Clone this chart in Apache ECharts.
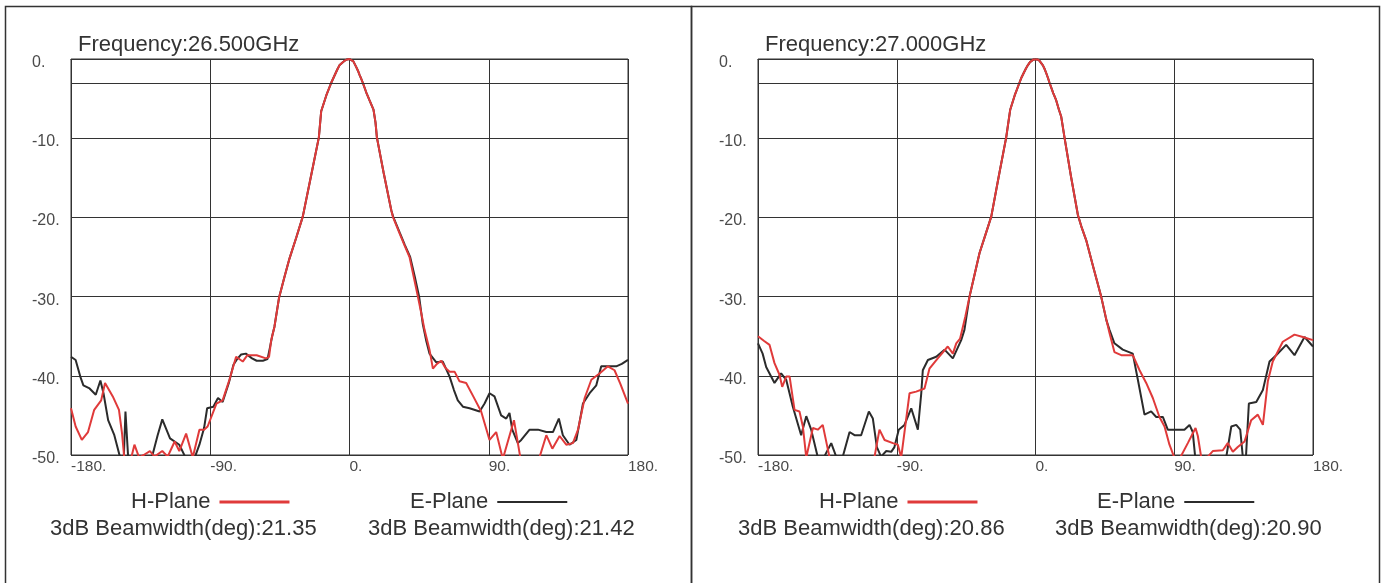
<!DOCTYPE html>
<html>
<head>
<meta charset="utf-8">
<script src="https://cdn.jsdelivr.net/npm/echarts@6/dist/echarts.min.js"></script>
<style>
html,body{margin:0;padding:0;background:#fff;}
#chart{width:1386px;height:583px;}
</style>
</head>
<body>
<div id="chart"></div>
<script>
// ---- data ----
const frequencies = ['26.500', '27.000'];
const beamwidthH = ['21.35', '20.86'];
const beamwidthE = ['21.42', '20.90'];
const xTicks = [-180, -90, 0, 90, 180];
const yTicks = [-50, -40, -30, -20, -10, 0];
const refLevel = -3;

// 26.5 GHz, H-Plane (red)
const h1 = [[-180,-44.1],[-177,-46.4],[-173,-48.1],[-169,-47.1],[-165,-44.3],[-160.5,-43.1],[-158,-40.9],[-153,-42.6],[-149,-44.3],[-147,-47.3],[-145.5,-50.5],[-141,-50.3],[-139,-48.7],[-136,-50.3],[-133,-50],[-129,-49.5],[-126,-50.2],[-121,-49.5],[-117.5,-50.2],[-113,-48.3],[-110,-49.5],[-105.6,-47.3],[-101.3,-50.3],[-97,-46.8],[-94,-46.8],[-91.7,-46.4],[-86,-43.5],[-82,-43.1],[-77.6,-40.5],[-73.3,-37.6],[-69,-38.2],[-66,-37.4],[-60,-37.4],[-54,-37.8],[-52,-37.6],[-50.6,-35.5],[-48.5,-33.8],[-45.5,-30.1],[-42,-27.5],[-38.8,-25.2],[-34.5,-22.6],[-30.2,-19.9],[-25,-14.9],[-19.8,-9.9],[-18.3,-6.6],[-15,-4.6],[-11.8,-3.0],[-10.4,-2.4],[-9,-1.8],[-7.8,-1.3],[-6.5,-0.8],[-4.5,-0.45],[-3,-0.2],[-1.5,-0.05],[0,0],[1.2,-0.06],[2.5,-0.3],[3.4,-0.55],[4.3,-1.0],[5.4,-1.45],[6.5,-2.0],[7.6,-2.5],[8.6,-3.0],[10.8,-4.2],[12.9,-5.2],[15.5,-6.4],[16.8,-8.0],[17.7,-9.9],[22,-14.3],[27,-19.1],[28,-19.9],[32.3,-22.0],[35.5,-23.5],[38.8,-25.0],[41.5,-27.5],[44.2,-30.0],[46.5,-32.2],[48.5,-34.2],[51.7,-36.7],[53.9,-39.1],[56.5,-38.5],[59.3,-38.1],[62,-39.0],[64.7,-39.5],[68,-39.5],[71.1,-40.7],[75.4,-40.9],[80,-42.6],[85.1,-44.5],[90.5,-48.1],[94.8,-47.1],[99.1,-50.5],[106.3,-45.6],[111,-51],[116,-52],[122.8,-50.3],[127.2,-47.5],[131.1,-49.2],[135.8,-47.6],[140.1,-48.7],[144.4,-48.5],[147.7,-46.8],[152,-42.8],[156.3,-40.5],[161.6,-39.7],[167,-38.8],[171.3,-39.3],[175,-41],[180,-43.5]];

// 26.5 GHz, E-Plane (black)
const e1 = [[-180,-37.6],[-177,-38.0],[-174,-40.1],[-172,-41.2],[-168,-41.6],[-164,-42.4],[-161,-40.6],[-159,-42.2],[-156,-45.6],[-152,-47.5],[-148,-50.5],[-146,-51],[-144.8,-44.5],[-143,-50.5],[-138,-51],[-133,-51],[-128,-50.5],[-124,-47.5],[-121,-45.5],[-116,-47.9],[-110,-48.7],[-106,-50.3],[-100,-50.3],[-97,-48.7],[-94,-46.6],[-92,-44.1],[-88,-43.9],[-85,-42.8],[-82,-43.3],[-78,-40.9],[-75,-38.6],[-73,-38.0],[-70,-37.3],[-67,-37.2],[-63,-37.8],[-60,-38.1],[-56,-38.1],[-53,-37.9],[-51.5,-36.5],[-50,-35.0],[-48.5,-33.8],[-45.5,-30.1],[-42,-27.5],[-38.8,-25.2],[-34.5,-22.6],[-30.2,-19.9],[-25,-14.9],[-19.8,-9.9],[-18.3,-6.6],[-15,-4.6],[-11.8,-3.0],[-10.4,-2.4],[-9,-1.8],[-7.8,-1.3],[-6.5,-0.8],[-4.5,-0.45],[-3,-0.2],[-1.5,-0.05],[0,0],[1.2,-0.06],[2.5,-0.3],[3.4,-0.55],[4.3,-1.0],[5.4,-1.45],[6.5,-2.0],[7.6,-2.5],[8.6,-3.0],[10.8,-4.2],[12.9,-5.2],[15.5,-6.4],[16.8,-8.0],[17.7,-9.9],[22,-14.3],[27,-19.1],[28.2,-19.9],[32.6,-22.0],[35.8,-23.5],[39.2,-25.0],[42.2,-27.5],[45,-30.0],[47.4,-33.5],[49.5,-35.5],[51.7,-37.2],[56.1,-38.3],[60.3,-38.2],[64.7,-40.1],[67.5,-41.8],[70,-43.1],[73.3,-43.9],[77.6,-44.1],[84.1,-44.5],[87.3,-43.5],[90.5,-42.2],[93.7,-42.6],[98,-45],[101.3,-45.4],[103.4,-44.7],[105.2,-46.8],[108.8,-48.5],[111,-48.1],[116.4,-46.8],[121.8,-46.8],[127.2,-47.1],[131.5,-47.1],[135.3,-45.4],[137.9,-47.5],[142.2,-48.7],[146.6,-48.1],[150.9,-43.5],[155.2,-42.2],[159.5,-41.2],[162.7,-38.8],[168,-38.8],[172.4,-38.8],[176,-38.5],[180,-38.0]];

// 27.0 GHz, H-Plane (red)
const h2 = [[-180,-35.0],[-176,-35.6],[-172.5,-36.1],[-169.3,-38.4],[-166,-39.9],[-164.3,-41.4],[-161.7,-40.1],[-159.5,-40.1],[-156.3,-44.3],[-153.1,-44.5],[-150.9,-46.4],[-148.7,-50.3],[-144.4,-46.6],[-141.2,-46.8],[-138,-46.2],[-133.6,-50.3],[-128,-52],[-120,-52],[-112,-52],[-106,-51],[-104.4,-50.2],[-101.2,-46.8],[-97.9,-48.1],[-92.5,-48.5],[-89.3,-48.7],[-87.1,-50.3],[-81.7,-42.2],[-77.4,-42.0],[-72,-41.6],[-68.8,-39.1],[-63.4,-37.8],[-56.9,-36.3],[-53.6,-37.2],[-51.4,-35.9],[-48.9,-35.3],[-45.5,-32.5],[-42.8,-30.0],[-39.5,-27.2],[-36.3,-24.5],[-32.5,-22.2],[-28.7,-19.9],[-24,-15.0],[-19,-9.9],[-16.4,-6.4],[-13.5,-4.6],[-10.4,-3.0],[-9,-2.3],[-7.5,-1.7],[-6.2,-1.2],[-5,-0.8],[-3.6,-0.4],[-2.5,-0.2],[-1.2,-0.05],[0,0],[1.2,-0.05],[2.5,-0.2],[3.6,-0.45],[4.8,-0.8],[6,-1.3],[7,-1.8],[8.1,-2.4],[9.1,-3.0],[11.5,-4.3],[13.4,-5.2],[15.2,-6.4],[16.7,-7.3],[18.8,-9.9],[23,-14.8],[27.5,-19.7],[30,-21.3],[32.9,-22.9],[37.5,-26.3],[42.6,-30.0],[45.5,-32.5],[48,-34.6],[51.2,-37.0],[55.6,-37.4],[63.1,-37.4],[67.5,-39.3],[71.8,-40.9],[76.1,-42.8],[80.4,-45.2],[83.7,-46.4],[86.9,-48.7],[90,-50.3],[93.4,-50.5],[98.8,-48.5],[103.8,-46.6],[105.3,-47.6],[107.5,-50.3],[111.8,-50.2],[115,-49.5],[121.5,-49.4],[124.7,-48.5],[128,-49.6],[131.2,-49.0],[135.6,-48.3],[139.9,-45.6],[144.2,-44.9],[147.5,-46.2],[150.7,-40.7],[153.9,-38.2],[160.4,-35.7],[168,-34.8],[173.4,-35.1],[180,-35.5]];

// 27.0 GHz, E-Plane (black)
const e2 = [[-180,-35.9],[-177,-37.2],[-174.7,-38.9],[-169.3,-40.9],[-165,-39.7],[-161.7,-40.5],[-157.4,-43.9],[-152,-47.5],[-148.7,-45.1],[-145.5,-46.8],[-141.2,-50.3],[-137,-50.2],[-132.5,-48.5],[-129.3,-50.2],[-125,-50.2],[-120.6,-47.1],[-117.4,-47.5],[-113.1,-47.5],[-108.1,-44.5],[-105.5,-45.4],[-102.9,-49.0],[-100.2,-50.2],[-96.8,-49.5],[-93.6,-49.6],[-91.5,-49.0],[-88.7,-46.8],[-85,-46.2],[-80.6,-44.1],[-76.3,-46.8],[-74.1,-42.2],[-73.1,-39.3],[-69.8,-38.0],[-64.4,-37.6],[-59,-36.7],[-53.6,-37.8],[-48.2,-35.5],[-46.1,-34.2],[-42.8,-30.0],[-39.5,-27.2],[-36.3,-24.5],[-32.5,-22.2],[-28.7,-19.9],[-24,-15.0],[-19,-9.9],[-16.4,-6.4],[-13.5,-4.6],[-10.4,-3.0],[-9,-2.3],[-7.5,-1.7],[-6.2,-1.2],[-5,-0.8],[-3.6,-0.4],[-2.5,-0.2],[-1.2,-0.05],[0,0],[1.2,-0.05],[2.5,-0.2],[3.6,-0.45],[4.8,-0.8],[6,-1.3],[7,-1.8],[8.1,-2.4],[9.1,-3.0],[11.5,-4.3],[13.4,-5.2],[15.2,-6.4],[16.7,-7.3],[18.8,-9.9],[23,-14.8],[27.5,-19.7],[30,-21.3],[32.9,-22.9],[37.5,-26.3],[42.6,-30.0],[46,-33.0],[48,-34.2],[51.2,-35.9],[56.6,-36.7],[63.1,-37.2],[66.4,-40.5],[70.7,-44.9],[75,-44.5],[78.3,-45.2],[82.6,-45.2],[85.8,-46.8],[91.3,-46.8],[96.6,-46.8],[99.9,-46.2],[102,-47.1],[103.6,-50.3],[110,-52],[118,-52],[123.7,-50.3],[127,-46.4],[130.2,-46.2],[132.8,-46.8],[134.5,-50.3],[136.5,-50.3],[138.4,-43.5],[143.2,-43.3],[147.5,-41.8],[151.8,-38.2],[156.1,-37.4],[162.6,-36.1],[168,-37.4],[174.5,-35.1],[180,-36.3]];

// ---- chart ----
const FONT = '"Liberation Sans", Arial, sans-serif';
const RED = '#e03a3a';
const BLACK = '#2b2b2b';
const GRIDC = '#333';
const TXT = '#333';

const grids = [
  {left: 71, top: 59, width: 557, height: 396},
  {left: 758, top: 59, width: 555, height: 396}
];

function xAxisFor(i) {
  return {
    type: 'value', gridIndex: i,
    min: xTicks[0], max: xTicks[xTicks.length - 1], interval: xTicks[1] - xTicks[0],
    axisLine: {show: true, lineStyle: {color: GRIDC, width: 1}},
    axisTick: {show: false},
    splitLine: {show: true, lineStyle: {color: GRIDC, width: 1}},
    axisLabel: {formatter: v => v + '.', align: 'left', margin: 4, color: '#4a4a4a', fontSize: 15.5, fontFamily: FONT}
  };
}
function yAxisFor(i) {
  return {
    type: 'value', gridIndex: i,
    min: yTicks[0], max: yTicks[yTicks.length - 1], interval: yTicks[1] - yTicks[0],
    axisLine: {show: true, lineStyle: {color: GRIDC, width: 1}},
    axisTick: {show: false},
    splitLine: {show: true, lineStyle: {color: GRIDC, width: 1}},
    axisLabel: {
      formatter: v => '{v|' + v + '.}', align: 'left', verticalAlign: 'middle', margin: 39,
      rich: {v: {color: '#4a4a4a', fontSize: 16, fontFamily: FONT, padding: [7, 0, 0, 0]}}
    }
  };
}
function lineSeries(name, data, i, color, withRef) {
  const s = {
    name: name, type: 'line', xAxisIndex: i, yAxisIndex: i,
    data: data, showSymbol: false, symbol: 'none', smooth: false, clip: true,
    lineStyle: {color: color, width: 2}, itemStyle: {color: color},
    z: color === RED ? 4 : 3
  };
  if (withRef) {
    s.markLine = {
      silent: true, symbol: 'none', label: {show: false}, animation: false,
      lineStyle: {color: GRIDC, width: 1, type: 'solid'},
      data: [{yAxis: refLevel}]
    };
  }
  return s;
}

const titles = [];
const legends = [];
const legendDefs = [
  {hLeft: 131, eLeft: 410, bwH: 50, bwE: 368},
  {hLeft: 819, eLeft: 1097, bwH: 738, bwE: 1055}
];
const txtStyle = {fontFamily: FONT, fontSize: 22, fontWeight: 'normal', color: TXT};
frequencies.forEach((f, i) => {
  titles.push({text: 'Frequency:' + f + 'GHz', left: grids[i].left + 7, top: 34, padding: 0, textStyle: txtStyle});
  titles.push({text: '3dB Beamwidth(deg):' + beamwidthH[i], left: legendDefs[i].bwH, top: 518, padding: 0, textStyle: txtStyle});
  titles.push({text: '3dB Beamwidth(deg):' + beamwidthE[i], left: legendDefs[i].bwE, top: 518, padding: 0, textStyle: txtStyle});
  legends.push({data: ['H-Plane'], left: legendDefs[i].hLeft, top: 491, padding: 0, align: 'right', icon: 'rect',
    itemWidth: 70, itemHeight: 3, selectedMode: false,
    textStyle: {fontFamily: FONT, fontSize: 22, color: TXT, padding: [0, 4, 0, 0]}});
  legends.push({data: ['E-Plane'], left: legendDefs[i].eLeft, top: 491, padding: 0, align: 'right', icon: 'rect',
    itemWidth: 70, itemHeight: 2, selectedMode: false,
    textStyle: {fontFamily: FONT, fontSize: 22, color: TXT, padding: [0, 4, 0, 0]}});
});

const graphics = [
  {type: 'rect', shape: {x: 5.5, y: 6.5, width: 686, height: 600}, style: {fill: 'none', stroke: '#333', lineWidth: 1.5}, silent: true},
  {type: 'rect', shape: {x: 691.5, y: 6.5, width: 688, height: 600}, style: {fill: 'none', stroke: '#333', lineWidth: 1.5}, silent: true}
];

const chart = echarts.init(document.getElementById('chart'), null, {renderer: 'canvas'});
chart.setOption({
  animation: false,
  backgroundColor: '#fff',
  title: titles,
  legend: legends,
  graphic: graphics,
  grid: grids.map(g => Object.assign({show: true, borderColor: GRIDC, borderWidth: 1, containLabel: false}, g)),
  xAxis: [xAxisFor(0), xAxisFor(1)],
  yAxis: [yAxisFor(0), yAxisFor(1)],
  series: [
    lineSeries('E-Plane', e1, 0, BLACK, true),
    lineSeries('H-Plane', h1, 0, RED, false),
    lineSeries('E-Plane', e2, 1, BLACK, true),
    lineSeries('H-Plane', h2, 1, RED, false)
  ]
});
</script>
</body>
</html>
